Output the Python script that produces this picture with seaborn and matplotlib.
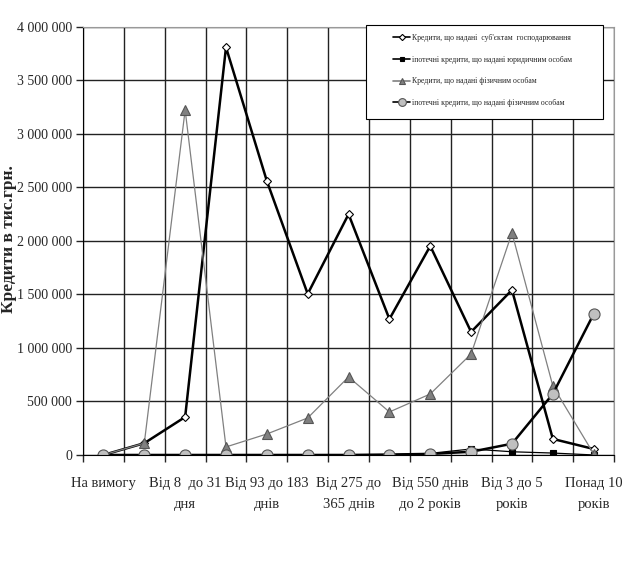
import matplotlib
matplotlib.use("Agg")
import matplotlib.pyplot as plt
import matplotlib.ticker as mticker
from matplotlib.patches import Rectangle
import numpy as np
import pandas as pd
import seaborn as sns

# terms of the loans (every second one is labelled on the axis)
categories = ['На вимогу', 'До 7 днів', 'Від 8  до 31 дня', 'Від 32 до 92 днів',
              'Від 93 до 183 днів', 'Від 184 до 274 днів', 'Від 275 до 365 днів',
              'Від 366 до 549 днів', 'Від 550 днів до 2 років', 'Від 2 до 3 років',
              'Від 3 до 5 років', 'Від 5 до 10 років', 'Понад 10 років']
shown_labels = ['На вимогу', 'Від 8  до 31\nдня', 'Від 93 до 183\nднів', 'Від 275 до\n365 днів',
                'Від 550 днів\nдо 2 років', 'Від 3 до 5\nроків', 'Понад 10\nроків']

business = [0, 110000, 355000, 3810000, 2560000, 1505000, 2250000, 1270000,
            1953000, 1150000, 1542000, 150000, 56000]
mortgage_legal = [0, 0, 0, 0, 0, 0, 0, 2000, 15000, 56000, 30000, 18000, 0]
individuals = [0, 110000, 3224000, 75000, 196000, 346000, 729000, 402000,
               570000, 944000, 2075000, 645000, 10000]
mortgage_individ = [0, 0, 0, 0, 0, 0, 0, 4000, 10000, 30000, 105000, 570000, 1318000]

names = ["Кредити, що надані  суб'єктам  господарювання",
         'іпотечні кредити, що надані юридичним особам',
         'Кредити, що надані фізичним особам',
         'іпотечні кредити, що надані фізичним особам']

df = pd.DataFrame({'pos': np.arange(len(categories)), 'term': categories})

sns.set_style('white')
plt.rcParams['font.family'] = ['Liberation Serif', 'DejaVu Serif']

fig = plt.figure(figsize=(6.26, 5.61), dpi=100)
ax = fig.add_axes([0.1326, 0.189, 0.8484, 0.763])

styles = [
    dict(color='black', lw=1.8, marker='D', ms=4.5, mfc='white', mec='black', mew=0.8),
    dict(color='black', lw=0.9, marker='s', ms=5, mfc='black', mec='black', mew=0.8),
    dict(color='#808080', lw=0.9, marker='^', ms=6.5, mfc='#808080', mec='#555555', mew=0.8),
    dict(color='black', lw=1.8, marker='o', ms=8, mfc='#c0c0c0', mec='#555555', mew=0.8),
]
for vals, name, st in zip([business, mortgage_legal, individuals, mortgage_individ], names, styles):
    sns.lineplot(x=df['pos'], y=vals, ax=ax, label=name, sort=False,
                 color=st['color'], linewidth=st['lw'], marker=st['marker'],
                 markersize=st['ms'], markerfacecolor=st['mfc'],
                 markeredgecolor=st['mec'], markeredgewidth=st['mew'])

ax.set_xlim(-0.5, len(categories) - 0.5)
ax.set_ylim(0, 4000000)
ax.set_yticks(np.arange(0, 4000001, 500000))
ax.yaxis.set_major_formatter(mticker.FuncFormatter(lambda v, p: f'{int(v):,}'.replace(',', ' ')))
ax.tick_params(axis='y', labelsize=10, length=5, width=1, direction='out', left=True, pad=3)

ax.set_xticks(np.arange(-0.5, len(categories), 1))
ax.set_xticklabels([])
ax.set_xticks(df['pos'][::2], shown_labels, minor=True)
ax.tick_params(axis='x', which='major', length=5, width=1, direction='out', bottom=True)
ax.tick_params(axis='x', which='minor', length=0, labelsize=10.5, pad=16)
for lbl in ax.get_xticklabels(minor=True):
    lbl.set_linespacing(1.75)

ax.grid(True, which='major', color='#222222', linewidth=1)
ax.set_axisbelow(True)
for s in ['top', 'right']:
    ax.spines[s].set_color('#999999')
for s in ['left', 'bottom']:
    ax.spines[s].set_color('black')

ax.set_xlabel('')
ax.set_ylabel('Кредити в тис.грн.', fontsize=12.5, fontweight='bold')
ax.yaxis.set_label_coords(-0.125, 0.505)

# legend box
ax.add_patch(Rectangle((0.533, 0.784), 0.446, 0.22, transform=ax.transAxes,
                       facecolor='white', edgecolor='black', linewidth=0.8,
                       clip_on=False, zorder=4))
leg = ax.legend(loc='upper left', bbox_to_anchor=(0.584, 0.983), fontsize=5.6,
                frameon=False, borderpad=0, borderaxespad=0,
                labelspacing=1.75, handlelength=2.2, handletextpad=0.2)
leg.set_zorder(5)
for line in leg.get_lines():
    line.set_linewidth(1.2)
for h in leg.legend_handles:
    h.set_markersize(h.get_markersize() * 0.7)

fig.savefig('out.png', dpi=100)
